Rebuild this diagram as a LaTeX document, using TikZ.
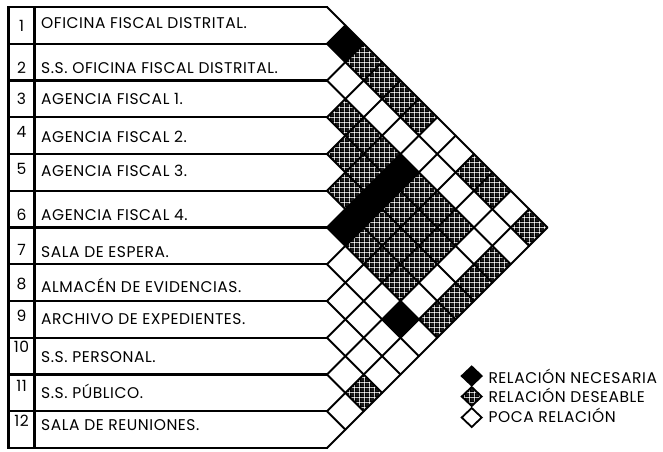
\documentclass[tikz,border=0pt]{standalone}
\usepackage{fontspec}
\setmainfont{Poppins}[LetterSpace=3.6]
\usetikzlibrary{patterns.meta}
\tikzdeclarepattern{
  name=plaid,
  type=uncolored,
  bounding box={(0pt,0pt) and (5pt,5pt)},
  tile size={(5pt,5pt)},
  code={
    \draw[line width=1.55pt] (0pt,1pt) -- (5pt,1pt) (0pt,3.5pt) -- (5pt,3.5pt)
      (1pt,0pt) -- (1pt,5pt) (3.5pt,0pt) -- (3.5pt,5pt);
  }
}
\newcommand\mcell[3]{%
  \pgfmathsetmacro\mcx{327+(#2-#1)*18.375}%
  \pgfmathsetmacro\mcy{7+(#1+#2-1)*18.375}%
  \path[#3] (\mcx-18.375,\mcy) -- (\mcx,\mcy-18.375) -- (\mcx+18.375,\mcy) -- (\mcx,\mcy+18.375) -- cycle;}
\tikzset{
  gridline/.style={line width=2pt, line cap=round, line join=round},
  frameline/.style={line width=2.3pt, line cap=rect},
  nec/.style={fill=black},
  des/.style={pattern=plaid, pattern color=black},
  poca/.style={fill=white},
  lbl/.style={font=\fontsize{15.5}{17}\selectfont, inner sep=0pt, anchor=base west},
  numlbl/.style={font=\fontsize{15.5}{17}\selectfont, inner sep=0pt, anchor=base},
  legsym/.style={draw, line width=1.8pt, line join=miter},
}
\begin{document}
\begin{tikzpicture}[x=1pt,y=-1pt]
\useasboundingbox (0,0) rectangle (663,451);
% ---- cell fills
\foreach \i/\j in {1/2,3/7,4/7,5/7,6/7,7/11} {\mcell{\i}{\j}{nec}}
\foreach \i/\j in {1/3,1/4,1/5,1/6,1/9,1/10,1/12,
  3/4,3/5,3/6,3/8,3/9,3/10,3/12,
  4/5,4/6,4/8,4/9,4/10,4/12,
  5/6,5/8,5/9,5/10,5/12,
  6/8,6/9,6/10,6/12,
  10/12} {\mcell{\i}{\j}{des}}
% ---- diagonal grid
\foreach \k in {0,...,11} {
  \pgfmathsetmacro\bk{7+\k*36.75}
  \pgfmathsetmacro\len{(448-\bk)/2}
  \draw[gridline] (327,\bk) -- ++(\len,\len);
}
\foreach \k in {1,...,12} {
  \pgfmathsetmacro\bk{7+\k*36.75}
  \pgfmathsetmacro\len{(\bk-7)/2}
  \draw[gridline] (327,\bk) -- ++(\len,-\len);
}
% ---- row frame
\foreach \k in {0,...,12} {
  \pgfmathsetmacro\bk{7+\k*36.75}
  \draw[frameline] (8.5,\bk) -- (327,\bk);
}
\draw[frameline] (8.5,7) -- (8.5,448);
\draw[frameline, line width=2.8pt] (34.5,7) -- (34.5,448);
% ---- numbers
\foreach \n/\y in {1/26,2/68,3/99,4/132.5,5/169,6/215,7/250,8/284,9/316,10/347,11/386,12/421} {
  \node[numlbl] (num\n) at (21.5,\y+5.3) {\n};
}
% ---- names
\node[lbl] (name1) at (41,28.3) {OFICINA FISCAL DISTRITAL.};
\node[lbl] (name2) at (41,73.3) {S.S. OFICINA FISCAL DISTRITAL.};
\node[lbl] (name3) at (41,104.3) {AGENCIA FISCAL 1.};
\node[lbl] (name4) at (41,142) {AGENCIA FISCAL 2.};
\node[lbl] (name5) at (41,176.3) {AGENCIA FISCAL 3.};
\node[lbl] (name6) at (41,220.3) {AGENCIA FISCAL 4.};
\node[lbl] (name7) at (41,257) {SALA DE ESPERA.};
\node[lbl] (name8) at (41,292) {ALMACÉN DE EVIDENCIAS.};
\node[lbl] (name9) at (41,324.3) {ARCHIVO DE EXPEDIENTES.};
\node[lbl] (name10) at (41,362) {S.S. PERSONAL.};
\node[lbl] (name11) at (41,398.3) {S.S. PÚBLICO.};
\node[lbl] (name12) at (41,430.3) {SALA DE REUNIONES.};
% ---- legend
\path[legsym, fill=black] (461.7,376) -- (471.7,366.5) -- (481.7,376) -- (471.7,385.5) -- cycle;
\path[legsym, pattern=plaid] (461.7,396.5) -- (471.7,387) -- (481.7,396.5) -- (471.7,406) -- cycle;
\path[legsym, fill=white] (461.7,417.5) -- (471.7,408) -- (481.7,417.5) -- (471.7,427) -- cycle;
\node[lbl] (leg1) at (488.3,383.3) {RELACIÓN NECESARIA};
\node[lbl] (leg2) at (488.3,402.3) {RELACIÓN DESEABLE};
\node[lbl] (leg3) at (488.3,422.3) {POCA RELACIÓN};
\end{tikzpicture}
\end{document}
